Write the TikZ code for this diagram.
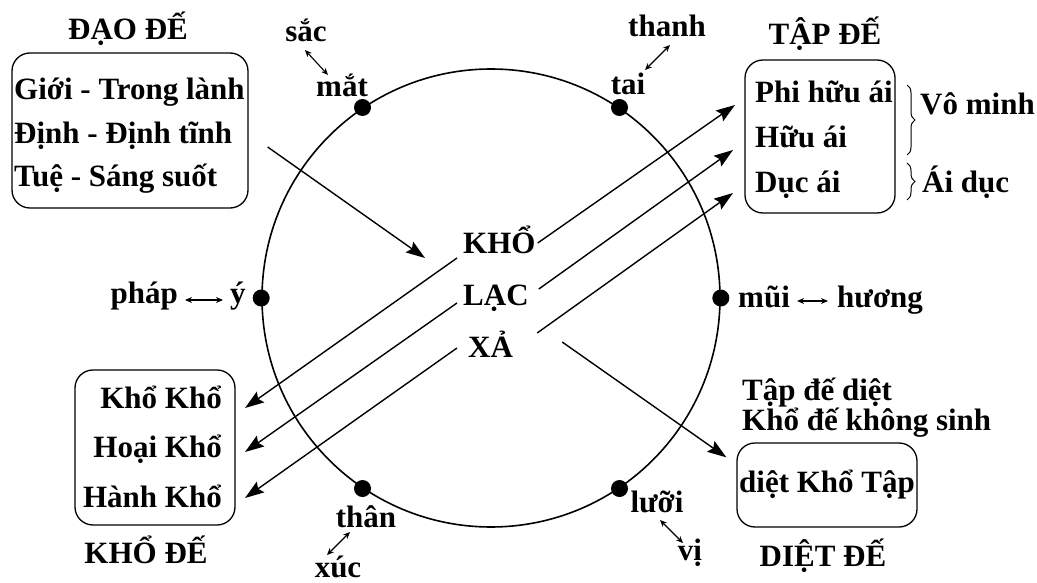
\documentclass[tikz,border=0pt]{standalone}
\usepackage{fontspec}
\setmainfont{Liberation Serif}
\usetikzlibrary{arrows.meta, positioning, decorations.pathreplacing}

\begin{document}
\begin{tikzpicture}[x=1pt, y=-1pt,
  txt/.style={inner sep=0pt, font=\fontsize{31}{31}\selectfont\bfseries},
  box/.style={draw, line width=1.3pt, rounded corners=18pt, inner sep=0pt},
  dot/.style={circle, fill, inner sep=0pt, minimum size=17pt},
  arr/.style={-{Stealth[length=19pt, width=13pt, inset=3pt]}, line width=1.4pt},
  dbl/.style={{Stealth[length=7pt, width=6pt]}-{Stealth[length=7pt, width=6pt]}, line width=1.1pt},
  brc/.style={decorate, decoration={brace, amplitude=8pt}, line width=1pt},
]
\useasboundingbox (0,0) rectangle (1037,583);

% vong luc can
\node[circle, draw, line width=1.6pt, minimum size=458pt, inner sep=0pt] (wheel) at (491,298) {};
\node[dot] (mat) at (wheel.124) {};
\node[dot] (tai) at (wheel.56) {};
\node[dot] (y) at (wheel.180) {};
\node[dot] (mui) at (wheel.0) {};
\node[dot] (than) at (wheel.236) {};
\node[dot] (luoi) at (wheel.304) {};

% can - tran
\node[txt, anchor=base] (matl) at (342,97) {mắt};
\node[txt, anchor=base] (sac) at (306,42) {sắc};
\node[txt, anchor=base] (tail) at (628,95) {tai};
\node[txt, anchor=base] (thanh) at (667,37) {thanh};
\node[txt, anchor=base west] (yl) at (230,303) {ý};
\node[txt, anchor=base east] (phap) at (178,303) {pháp};
\node[txt, anchor=base west] (muil) at (738,307) {mũi};
\node[txt, anchor=base west] (huong) at (837,307) {hương};
\node[txt, anchor=base] (thanl) at (366,527) {thân};
\node[txt, anchor=base] (xuc) at (338,577) {xúc};
\node[txt, anchor=base] (luoil) at (657,512) {lưỡi};
\node[txt, anchor=base] (vi) at (690,560) {vị};

\draw[dbl] ([shift={(-1,8)}]sac.base) -- ([shift={(-14,-22)}]matl.base);
\draw[dbl] ([shift={(3,8)}]thanh.base) -- ([shift={(17,-25)}]tail.base);
\draw[dbl] ([shift={(7,-3)}]phap.base east) -- ([shift={(-7,-3)}]yl.base west);
\draw[dbl] ([shift={(7,-6)}]muil.base east) -- ([shift={(-9,-6)}]huong.base west);
\draw[dbl] ([shift={(-16,5)}]thanl.base) -- ([shift={(-11,-22)}]xuc.base);
\draw[dbl] ([shift={(3,8)}]luoil.base) -- ([shift={(-7,-17)}]vi.base);

% kho - lac - xa
\node[txt, anchor=base west] (kho) at (463,253) {KHỔ};
\node[txt, anchor=base west] (lac) at (463,305) {LẠC};
\node[txt, anchor=base west] (xa) at (468,357) {XẢ};

% dao de
\node[txt, anchor=base] (daot) at (128,40) {ĐẠO ĐẾ};
\node[box, minimum width=236pt, minimum height=155pt] (dao) at (130,130.5) {};
\node[txt, anchor=base west] (g1) at (14,100) {Giới - Trong lành};
\node[txt, anchor=base west] (g2) at (14,144) {Định - Định tĩnh};
\node[txt, anchor=base west] (g3) at (14,187) {Tuệ - Sáng suốt};

% tap de
\node[txt, anchor=base] (tapt) at (825,45) {TẬP ĐẾ};
\node[box, minimum width=150pt, minimum height=153pt] (tap) at (820,136.5) {};
\node[txt, anchor=base west] (t1) at (755,103) {Phi hữu ái};
\node[txt, anchor=base west] (t2) at (755,148) {Hữu ái};
\node[txt, anchor=base west] (t3) at (755,193) {Dục ái};
\draw[brc] (907,85) -- (907,155);
\draw[brc] (907,163) -- (907,200);
\node[txt, anchor=base west] (vominh) at (920,115) {Vô minh};
\node[txt, anchor=base west] (aiduc) at (922,193) {Ái dục};

% kho de
\node[box, minimum width=160pt, minimum height=155pt] (khob) at (155,447.5) {};
\node[txt, anchor=base east] (k1) at (222,408) {Khổ Khổ};
\node[txt, anchor=base east] (k2) at (222,457) {Hoại Khổ};
\node[txt, anchor=base east] (k3) at (222,507) {Hành Khổ};
\node[txt, anchor=base] (khot) at (146,563) {KHỔ ĐẾ};

% diet de
\node[txt, anchor=base west] (n1) at (742,400) {Tập đế diệt};
\node[txt, anchor=base west] (n2) at (742,430) {Khổ đế không sinh};
\node[box, txt, draw, line width=1.3pt, rounded corners=18pt,
      minimum width=180pt, minimum height=84pt] (diet) at (827,485) {diệt Khổ Tập};
\node[txt, anchor=base] (diett) at (823,566) {DIỆT ĐẾ};

% mui ten
\draw[arr] ([shift={(19,16.5)}]dao.east) -- ([shift={(-38,5)}]kho.base west);
\draw[arr] ([shift={(2,-10)}]kho.base east) -- ([shift={(-20,2)}]t1.base west);
\draw[arr] ([shift={(10,-16)}]lac.base east) -- ([shift={(-22,2)}]t2.base west);
\draw[arr] ([shift={(24,-24)}]xa.base east) -- ([shift={(-22,0)}]t3.base west);
\draw[arr] ([shift={(-6,5)}]kho.base west) -- ([shift={(23,0)}]k1.base east);
\draw[arr] ([shift={(-6,-2)}]lac.base west) -- ([shift={(23,-5)}]k2.base east);
\draw[arr] ([shift={(-11,-9)}]xa.base west) -- ([shift={(23,-9)}]k3.base east);
\draw[arr] ([shift={(49,-15)}]xa.base east) -- ([shift={(-10,15)}]diet.north west);
\end{tikzpicture}
\end{document}
